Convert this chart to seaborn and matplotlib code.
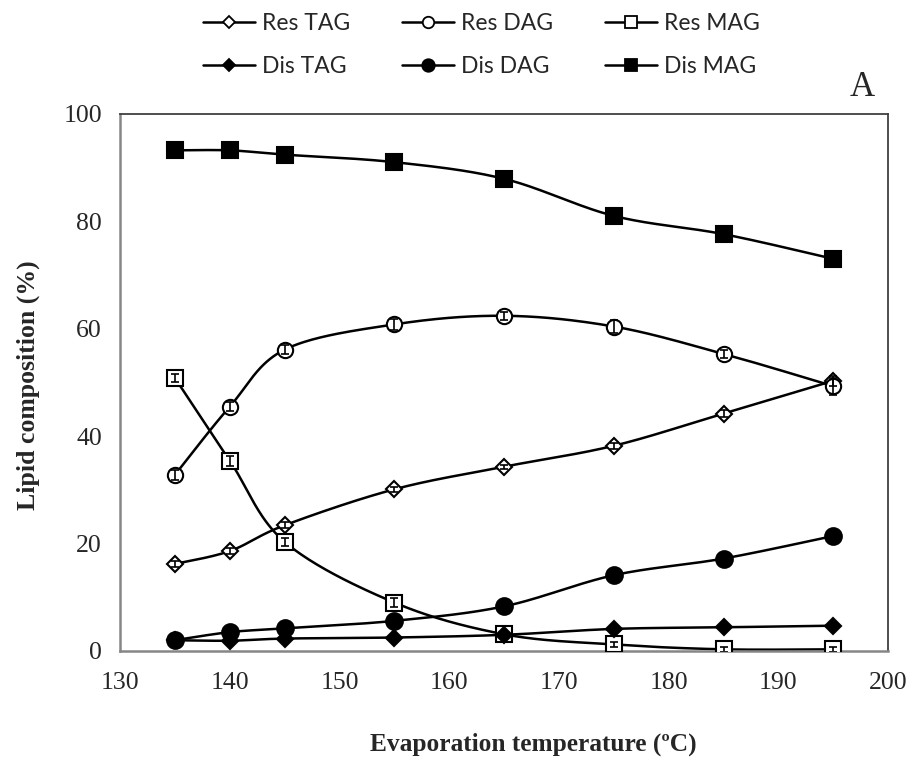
import numpy as np
import matplotlib
matplotlib.use("Agg")
import matplotlib.pyplot as plt
from matplotlib.lines import Line2D
import seaborn as sns

# ---- data ----
temperature = [135, 140, 145, 155, 165, 175, 185, 195]
res_tag = [16.2, 18.6, 23.4, 30.1, 34.3, 38.2, 44.2, 50.3]
res_dag = [32.8, 45.5, 56.1, 60.8, 62.4, 60.4, 55.3, 49.3]
res_mag = [50.8, 35.4, 20.3, 9.0, 3.1, 1.2, 0.3, 0.3]
dis_tag = [2.0, 1.9, 2.3, 2.5, 3.0, 4.1, 4.4, 4.7]
dis_dag = [2.0, 3.5, 4.2, 5.6, 8.3, 14.1, 17.2, 21.4]
dis_mag = [93.2, 93.2, 92.4, 91.0, 87.9, 81.0, 77.6, 73.0]
res_tag_err = [0.6, 0.5, 0.6, 0.5, 0.4, 0.6, 0.6, 0.9]
res_dag_err = [0.9, 0.8, 0.8, 1.0, 0.7, 1.2, 0.8, 1.6]
res_mag_err = [0.8, 0.9, 0.7, 0.8, 0.6, 0.5, 0.5, 0.5]
series_names = ["Res TAG", "Res DAG", "Res MAG", "Dis TAG", "Dis DAG", "Dis MAG"]
x_ticks = [130, 140, 150, 160, 170, 180, 190, 200]
y_ticks = [0, 20, 40, 60, 80, 100]


def smooth(x, y, n=40):
    """Excel-style smoothed line (Catmull-Rom Bezier through the points)."""
    P = np.column_stack([x, y]).astype(float)
    Pe = np.vstack([P[0], P, P[-1]])
    out = []
    t = np.linspace(0, 1, n)[:, None]
    for i in range(len(P) - 1):
        p0, p1, p2, p3 = Pe[i], Pe[i + 1], Pe[i + 2], Pe[i + 3]
        c1 = p1 + (p2 - p0) / 6.0
        c2 = p2 - (p3 - p1) / 6.0
        seg = ((1 - t) ** 3) * p1 + 3 * ((1 - t) ** 2) * t * c1 + 3 * (1 - t) * t ** 2 * c2 + t ** 3 * p2
        out.append(seg if i == 0 else seg[1:])
    S = np.vstack(out)
    return S[:, 0], S[:, 1]


sns.set_style("white")
plt.rcParams["font.family"] = ["Liberation Serif", "DejaVu Serif"]

fig = plt.figure(figsize=(9.1, 7.64), dpi=100)
ax = fig.add_axes([0.132, 0.148, 0.844, 0.703])

styles = {
    "Res TAG": dict(marker="D", ms=8.5, mfc="white"),
    "Res DAG": dict(marker="o", ms=11, mfc="white"),
    "Res MAG": dict(marker="s", ms=11, mfc="white"),
    "Dis TAG": dict(marker="D", ms=8.5, mfc="black"),
    "Dis DAG": dict(marker="o", ms=12, mfc="black"),
    "Dis MAG": dict(marker="s", ms=12, mfc="black"),
}
data = {
    "Res TAG": (res_tag, res_tag_err),
    "Res DAG": (res_dag, res_dag_err),
    "Res MAG": (res_mag, res_mag_err),
    "Dis TAG": (dis_tag, None),
    "Dis DAG": (dis_dag, None),
    "Dis MAG": (dis_mag, None),
}

for name in series_names:
    vals, err = data[name]
    sx, sy = smooth(temperature, vals)
    sns.lineplot(x=sx, y=sy, sort=False, estimator=None, color="black", lw=1.8, ax=ax, zorder=2)
    st = styles[name]
    ax.plot(temperature, vals, ls="none", marker=st["marker"], ms=st["ms"],
            mfc=st["mfc"], mec="black", mew=1.5, zorder=3)
    if err is not None:
        ax.errorbar(temperature, vals, yerr=err, fmt="none", ecolor="black",
                    elinewidth=1.2, capsize=3, capthick=1.2, zorder=4)

ax.set_xlim(130, 200)
ax.set_ylim(0, 100)
ax.set_xticks(x_ticks)
ax.set_yticks(y_ticks)
ax.set_xticklabels([str(v) for v in x_ticks])
ax.set_yticklabels([str(v) for v in y_ticks])
ax.tick_params(axis="both", direction="out", length=7, width=1.5, color="#868686",
               labelsize=18.5, pad=6)
ax.tick_params(axis="x", pad=8)
for s in ["left", "bottom"]:
    ax.spines[s].set_color("#868686")
    ax.spines[s].set_linewidth(1.8)
for s in ["top", "right"]:
    ax.spines[s].set_color("#404040")
    ax.spines[s].set_linewidth(1.3)
ax.grid(False)

fig.text(533 / 910, 1 - 744 / 764, "Evaporation temperature (ºC)", ha="center", va="center",
         fontsize=18.3, fontweight="bold")
fig.text(28 / 910, 1 - 385 / 764, "Lipid composition (%)", ha="center", va="center",
         rotation=90, fontsize=18.5, fontweight="bold")
fig.text(862 / 910, 1 - 88 / 764, "A", ha="center", va="center", fontsize=25)

# legend, row-wise Res / Dis
order = ["Res TAG", "Dis TAG", "Res DAG", "Dis DAG", "Res MAG", "Dis MAG"]
handles = []
for name in order:
    st = styles[name]
    ms = st["ms"] * 0.75
    handles.append(Line2D([0], [0], color="black", lw=1.8, marker=st["marker"], ms=ms,
                          mfc=st["mfc"], mec="black", mew=1.3))
leg = fig.legend(handles, order, loc="upper left", bbox_to_anchor=(203 / 910, 1 - 13 / 764),
                 ncol=3, frameon=False, prop={"family": "Lato", "size": 16.5},
                 handlelength=2.27, handletextpad=0.3, columnspacing=2.27, labelspacing=0.95,
                 borderpad=0, borderaxespad=0)

fig.savefig("out.png", dpi=100)
